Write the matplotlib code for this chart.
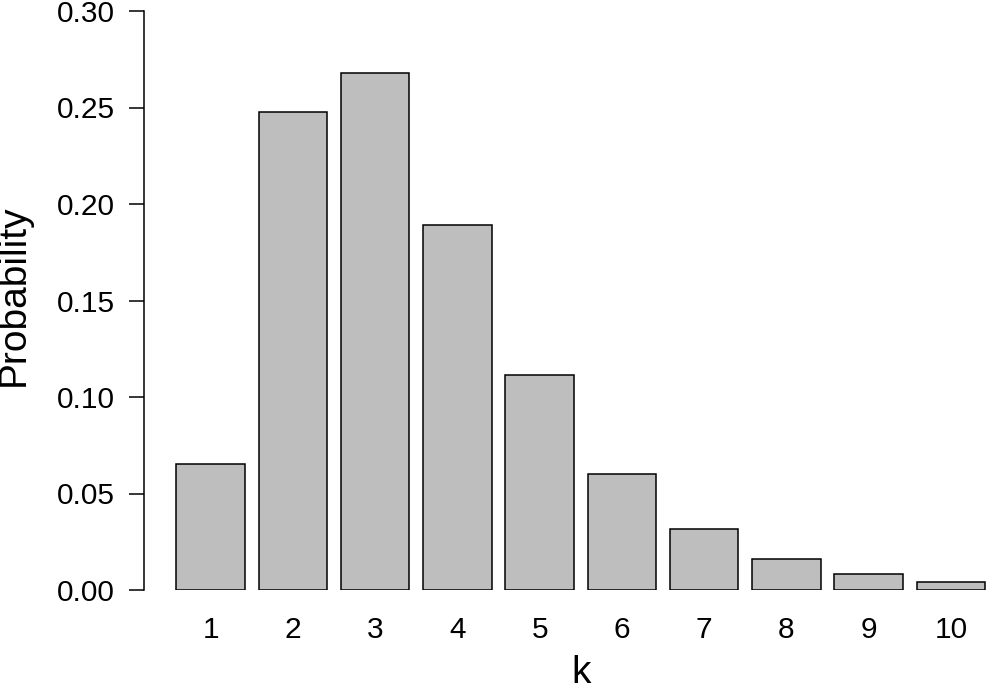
import matplotlib
matplotlib.use("Agg")
import matplotlib.pyplot as plt

k = [1, 2, 3, 4, 5, 6, 7, 8, 9, 10]
prob = [0.0653, 0.2477, 0.2679, 0.1891, 0.1114, 0.0601, 0.0316, 0.0161, 0.0083, 0.0041]
yticks = [0.00, 0.05, 0.10, 0.15, 0.20, 0.25, 0.30]

plt.rcParams['font.family'] = ['Liberation Sans', 'DejaVu Sans']

W, H = 986, 688
fig = plt.figure(figsize=(W / 100, H / 100), dpi=100)
left, right, top, bottom = 144, 1017.6, 11, 590
ax = fig.add_axes([left / W, 1 - bottom / H, (right - left) / W, (bottom - top) / H])

ax.bar(k, prob, width=0.833, color='#BEBEBE', edgecolor='black', linewidth=1.1)

# x-range matching R barplot (4% extension), in bar-center units
unit = 1.2
ax.set_xlim(1 - 0.972 / unit, 10 + 0.972 / unit)
ax.set_ylim(0, 0.30)

for s in ['top', 'right', 'bottom']:
    ax.spines[s].set_visible(False)
ax.spines['left'].set_linewidth(1.1)
ax.spines['left'].set_bounds(0, 0.30)

ax.set_yticks(yticks)
ax.set_yticklabels([f"{v:.2f}" for v in yticks])
ax.set_xticks(k)
ax.set_xticklabels([str(v) for v in k])
ax.tick_params(axis='y', length=10.8, width=1.1, pad=10, labelsize=21.5)
ax.tick_params(axis='x', length=0, pad=19, labelsize=21.5)

ax.set_xlabel('k', fontsize=28)
ax.set_ylabel('Probability', fontsize=28)
ax.xaxis.set_label_coords(0.5, -0.113)
ax.yaxis.set_label_coords(-0.128, 0.51)

fig.savefig('out.png', dpi=100)
